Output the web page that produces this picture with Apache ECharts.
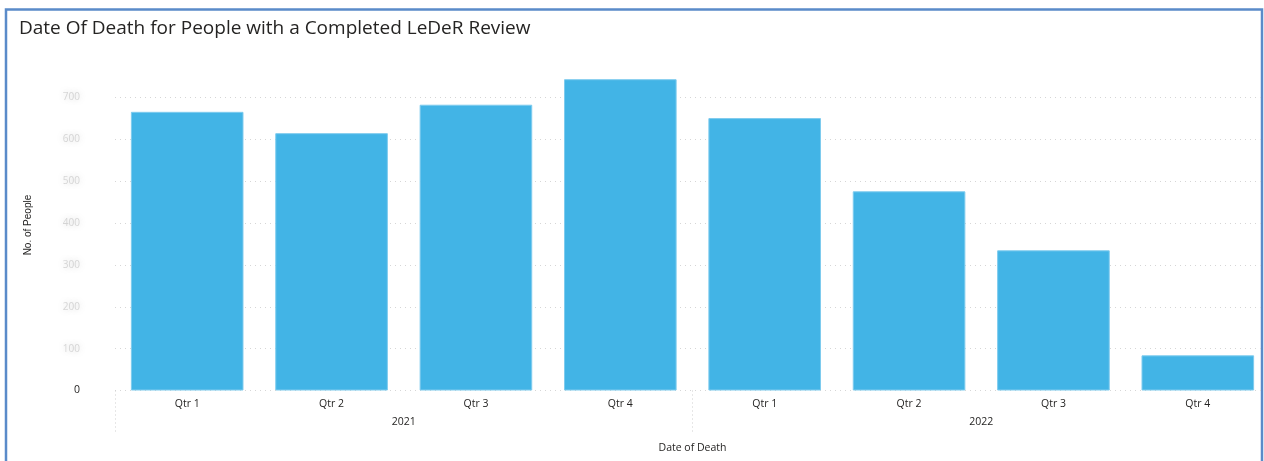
<!DOCTYPE html>
<html>
<head>
<meta charset="utf-8">
<script src="https://cdn.jsdelivr.net/npm/echarts@6/dist/echarts.min.js"></script>
<style>
  html, body { margin: 0; padding: 0; background: #fff; overflow: hidden; }
  #chart { width: 1272px; height: 461px; }
</style>
</head>
<body>
<div id="chart"></div>
<script>
var quarters = ['Qtr 1', 'Qtr 2', 'Qtr 3', 'Qtr 4', 'Qtr 1', 'Qtr 2', 'Qtr 3', 'Qtr 4'];
var years = ['2021', '2022'];
var people = [666, 615, 683, 744, 651, 476, 335, 84];
var yTicks = [0, 100, 200, 300, 400, 500, 600, 700];

var barColor = '#42b4e6';
var gridColor = '#d6d6d6';

var option = {
    backgroundColor: '#fff',
    animation: false,
    title: {
        text: 'Date Of Death for People with a Completed LeDeR Review',
        left: 14,
        top: 14,
        textStyle: {
            fontFamily: 'Open Sans',
            fontWeight: 'normal',
            fontSize: 19,
            color: '#252423'
        }
    },
    graphic: [{
        type: 'rect',
        shape: { x: 6, y: 9.5, width: 1256, height: 460 },
        style: { fill: 'none', stroke: '#5a8bc9', lineWidth: 2.5 },
        silent: true
    }],
    grid: {
        left: 115,
        top: 97.6,
        width: 1155,
        height: 292.9
    },
    xAxis: [{
        type: 'category',
        data: quarters,
        position: 'bottom',
        axisLine: { show: false },
        axisTick: { show: false },
        axisLabel: {
            margin: 8,
            fontFamily: 'Open Sans',
            fontSize: 10.5,
            color: '#252423'
        }
    }, {
        type: 'category',
        data: years,
        position: 'bottom',
        axisLine: { show: false },
        axisTick: {
            show: true,
            length: 42,
            lineStyle: { color: '#cfcfcf', type: [1, 3], width: 1 }
        },
        axisLabel: {
            margin: 26,
            fontFamily: 'Open Sans',
            fontSize: 10.5,
            color: '#252423'
        },
        name: 'Date of Death',
        nameLocation: 'middle',
        nameGap: 52,
        nameTextStyle: {
            fontFamily: 'Open Sans',
            fontSize: 10.5,
            color: '#252423'
        }
    }],
    yAxis: {
        type: 'value',
        min: 0,
        max: 700,
        interval: 100,
        name: 'No. of People',
        nameLocation: 'middle',
        nameGap: 82,
        nameTextStyle: {
            fontFamily: 'Liberation Sans',
            fontSize: 10,
            color: '#252423',
            padding: [0, 0, 0, 38]
        },
        axisLine: { show: false },
        axisTick: { show: false },
        splitLine: {
            lineStyle: { color: gridColor, type: [1, 4], width: 1 }
        },
        axisLabel: {
            margin: 35,
            formatter: function (v) {
                return v === 0 ? '{zero|0}' : '{blur|' + v + '}';
            },
            rich: {
                zero: { fontFamily: 'Open Sans', fontSize: 10.5, color: '#252423' },
                blur: {
                    fontFamily: 'Open Sans',
                    fontSize: 10,
                    color: 'rgba(150,150,150,0.35)',
                    textShadowColor: 'rgba(120,120,120,0.9)',
                    textShadowBlur: 6
                }
            }
        }
    },
    series: [{
        type: 'bar',
        data: people,
        xAxisIndex: 0,
        barCategoryGap: '22%',
        clip: false,
        itemStyle: {
            color: barColor,
            borderColor: '#7ecbee',
            borderWidth: 1
        }
    }]
};

var myChart = echarts.init(document.getElementById('chart'));
myChart.setOption(option);
</script>
</body>
</html>
